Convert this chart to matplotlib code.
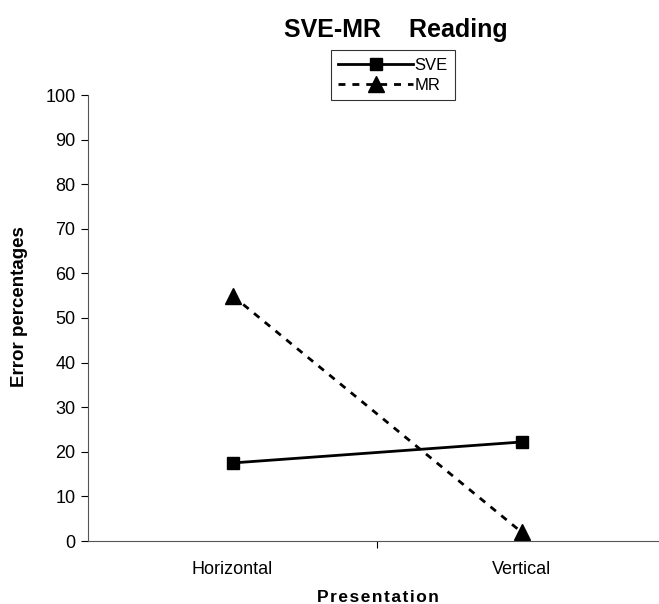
import matplotlib
matplotlib.use('Agg')
import matplotlib.pyplot as plt
import numpy as np

categories = ['Horizontal', 'Vertical']
sve = [17.5, 22.2]
mr = [55.0, 2.0]
yticks = [0, 10, 20, 30, 40, 50, 60, 70, 80, 90, 100]

plt.rcParams['font.family'] = ['Liberation Sans', 'DejaVu Sans']

fig = plt.figure(figsize=(6.59, 6.04), dpi=100)
ax = fig.add_axes([88/659, 1-541/604, 578/659, (541-95)/604])

xpos = np.arange(len(categories)) + 0.5
ax.plot(xpos, sve, '-', color='black', lw=2, marker='s', markersize=9, label='SVE', clip_on=False)
ax.plot(xpos, mr, '--', color='black', lw=2, dashes=(2.5, 2.5), marker='^', markersize=11,
        label='MR', clip_on=False)

ax.set_xlim(0, 2)
ax.set_ylim(0, 100)
ax.set_yticks(yticks)
ax.set_xticks([1])
ax.set_xticklabels([])
ax.tick_params(axis='y', direction='out', length=5, width=0.8, labelsize=13, pad=4)
ax.tick_params(axis='x', direction='out', length=5, width=0.8)
for i, c in enumerate(categories):
    ax.text(xpos[i], -4.5, c, ha='center', va='top', fontsize=13)

ax.spines['top'].set_visible(False)
ax.spines['right'].set_visible(False)
ax.spines['left'].set_color('#555555')
ax.spines['bottom'].set_color('#555555')

fig.text(20/659, 1-307/604, 'Error percentages', rotation=90, ha='center', va='center',
         fontsize=13.5, fontweight='bold')
fig.text(378/659, 1-598/604, '\u200a'.join('Presentation'), ha='center', va='center',
         fontsize=12.5, fontweight='bold')
fig.text(396/659, 1-30/604, 'SVE-MR    Reading', ha='center', va='center',
         fontsize=18, fontweight='bold')

leg = ax.legend(loc='center', bbox_to_anchor=(393/659, 1-75/604), bbox_transform=fig.transFigure,
                fontsize=12, frameon=True, fancybox=False, edgecolor='black',
                handlelength=4.5, handletextpad=0.1, borderpad=0.45, labelspacing=0.3)
leg.get_frame().set_linewidth(0.8)

plt.savefig('out.png', dpi=100)
